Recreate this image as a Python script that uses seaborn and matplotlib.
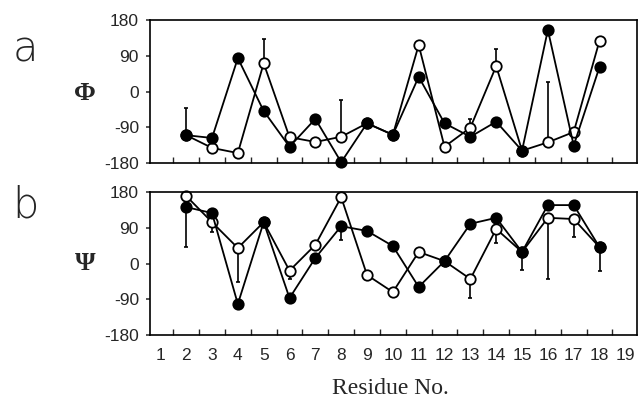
import numpy as np
import matplotlib
matplotlib.use("Agg")
import matplotlib.pyplot as plt
import seaborn as sns
from matplotlib.ticker import FixedLocator

# ==========================
# DATA
# ==========================

residues = list(range(2, 19))

phi_filled = [-110, -117, 84, -49, -139, -69, -178, -80, -109, 37, -80, -114, -76, -149, 155, -136, 62]
phi_open = [-110, -142, -155, 71, -115, -127, -114, -80, -109, 117, -139, -91, 64, -149, -128, -102, 128]
phi_open_up = [69, 0, 0, 60, 0, 0, 93, 0, 0, 0, 0, 21, 42, 0, 152, 0, 0]

psi_filled = [142, 127, -102, 104, -87, 14, 94, 82, 44, -59, 6, 100, 115, 29, 147, 147, 41]
psi_open = [170, 104, 39, 104, -18, 47, 167, -29, -72, 29, 6, -39, 87, 29, 115, 112, 41]
psi_filled_down = [100, 0, 0, 0, 0, 0, 35, 0, 0, 0, 0, 0, 0, 45, 0, 0, 60]
psi_open_down = [0, 25, 85, 0, 21, 0, 0, 0, 0, 0, 0, 48, 35, 0, 153, 45, 0]

residue_ticks = list(range(1, 20))
angle_ticks = [-180, -90, 0, 90, 180]

# ==========================
# STYLE
# ==========================

sns.set_style("ticks")
plt.rcParams["font.family"] = ["Liberation Sans", "DejaVu Sans"]
plt.rcParams["axes.unicode_minus"] = False

fig = plt.figure(figsize=(6.38, 4.01), dpi=100)

ax_a = fig.add_axes([150 / 638, 1 - 163 / 401, 487 / 638, 143 / 401])
ax_b = fig.add_axes([150 / 638, 1 - 335 / 401, 487 / 638, 143 / 401])


def draw_series(ax, values, face, err_low, err_up, z):
    zeros = [0] * len(values)
    low = err_low if err_low is not None else zeros
    up = err_up if err_up is not None else zeros
    if any(low) or any(up):
        ax.errorbar(residues, values, yerr=[low, up], fmt="none",
                    ecolor="black", elinewidth=1.2, capsize=1.6,
                    capthick=1.2, zorder=1, clip_on=False)
    sns.lineplot(x=residues, y=values, ax=ax, color="black",
                 marker="o", markersize=7.5, markerfacecolor=face,
                 markeredgecolor="black", markeredgewidth=1.3,
                 linewidth=1.3, errorbar=None, clip_on=False, zorder=z)


def style_axes(ax, show_labels):
    ax.set_xlim(0.6, 19.45)
    ax.set_ylim(-180, 180)
    ax.set_yticks(angle_ticks)
    ax.set_xticks(residue_ticks)
    ax.xaxis.set_minor_locator(FixedLocator(np.arange(1.5, 19, 1)))
    ax.tick_params(axis="x", which="major", length=0, pad=9,
                   labelsize=12.5, labelbottom=show_labels)
    ax.tick_params(axis="x", which="minor", direction="in",
                   length=4, width=1.0)
    ax.tick_params(axis="y", direction="out", length=3, width=1.1,
                   pad=5, labelsize=12.5)
    for s in ax.spines.values():
        s.set_visible(True)
        s.set_linewidth(1.2)
        s.set_color("black")
    ax.set_xlabel("")
    ax.set_ylabel("")


# panel a : Phi
draw_series(ax_a, phi_open, "white", None, phi_open_up, 2)
draw_series(ax_a, phi_filled, "black", None, None, 3)
style_axes(ax_a, False)

# panel b : Psi
draw_series(ax_b, psi_open, "white", psi_open_down, None, 2)
draw_series(ax_b, psi_filled, "black", psi_filled_down, None, 3)
style_axes(ax_b, True)

# ==========================
# LABELS
# ==========================

fig.text(85 / 638, 1 - 93 / 401, "Φ", family="Liberation Serif",
         fontsize=19, fontweight="bold", ha="center", va="center")
fig.text(85 / 638, 1 - 264 / 401, "Ψ", family="Liberation Serif",
         fontsize=19, fontweight="bold", ha="center", va="center")

fig.text(25 / 638, 1 - 62 / 401, "a", family="DejaVu Sans",
         fontsize=30, fontweight="light", ha="center", va="baseline")
fig.text(25 / 638, 1 - 217 / 401, "b", family="DejaVu Sans",
         fontsize=30, fontweight="light", ha="center", va="baseline")

fig.text(390 / 638, 1 - 389 / 401, "Residue No.", family="Liberation Serif",
         fontsize=17, ha="center", va="center")

plt.savefig("out.png", dpi=100)
